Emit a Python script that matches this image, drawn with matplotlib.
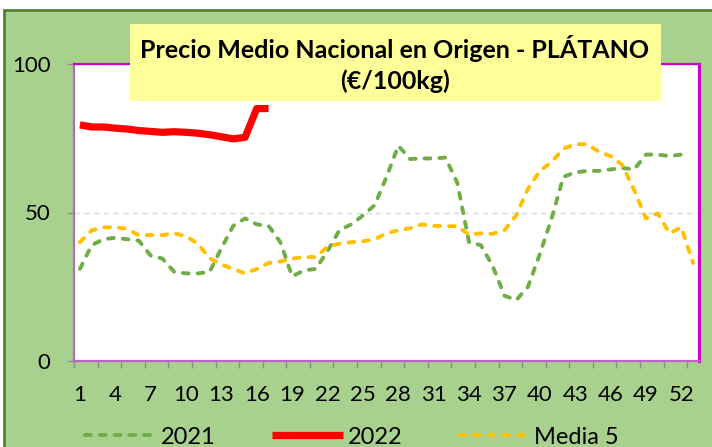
import matplotlib
matplotlib.use("Agg")
import matplotlib.pyplot as plt
from matplotlib.patches import Rectangle

# Weekly average origin price, banana (EUR/100kg)
weeks_2021 = list(range(1, 53))
price_2021 = [31, 39, 41, 41.5, 41, 40.5, 35.5, 34.5, 30, 29.5,
              29.5, 30, 38, 45.5, 48, 46, 45.5, 40, 28.5, 30.5,
              31, 37, 44, 46, 49, 52.5, 62, 72.5, 68, 68.2,
              68.2, 68.5, 60, 40, 39, 32, 22, 20.5, 25, 36,
              48, 62, 63.5, 64, 64, 64.5, 65, 64.5, 69.5, 69.5,
              69, 69.5]

weeks_2022 = list(range(1, 18))
price_2022 = [79.5, 78.8, 78.8, 78.4, 78.1, 77.6, 77.3, 77.0, 77.2, 77.0,
              76.7, 76.2, 75.5, 74.8, 75.3, 85.0, 85.0]

weeks_media5 = list(range(1, 54))
price_media5 = [40, 44, 45, 45, 44.5, 42.3, 42.4, 42.4, 43, 42,
                39.5, 34.6, 32.5, 31, 29.5, 31, 33, 33.5, 34.5, 35,
                35, 38.5, 39.5, 40, 40.3, 41, 43, 44, 44.7, 46,
                45.5, 45.4, 45.4, 42.5, 43, 42.8, 44, 49, 58, 64,
                67, 71.5, 73, 73, 70.5, 69, 66, 57.6, 48, 49.7,
                43, 45, 33]

x_labels = list(range(1, 53, 3))
y_ticks = [0, 50, 100]

title_lines = "Precio Medio Nacional en Origen - PLÁTANO\n(€/100kg)"

W, H = 712, 447
fig = plt.figure(figsize=(W / 100, H / 100), dpi=100)
fig.patch.set_facecolor("white")

FONT = "Lato"

# green chart area with darker frame on top/left
fig.patches.append(Rectangle((4 / W, -0.1), 1.2, (H - 10) / H + 0.1, transform=fig.transFigure,
                             facecolor="#A9D18E", edgecolor="#548235", linewidth=2,
                             zorder=-10))

ax = fig.add_axes([74 / W, 1 - 361 / H, (699 - 74) / W, (361 - 64) / H])
ax.set_zorder(1)
ax.set_facecolor("white")

dash_kw = dict(linewidth=2.8, dash_capstyle="round", dashes=(1.5, 2.3))
ax.plot(weeks_2021, price_2021, color="#70AD47", label="2021", **dash_kw)
ax.plot(weeks_2022, price_2022, color="#FF0000", linewidth=5.2, label="2022",
        solid_capstyle="butt", solid_joinstyle="round")
ax.plot(weeks_media5, price_media5, color="#FFC000", label="Media 5", **dash_kw)

ax.set_xlim(0.5, 53.5)
ax.set_ylim(0, 100)

ax.set_xticks(x_labels)
ax.set_xticklabels([str(v) for v in x_labels])
ax.set_xticks([0.5 + 2 * k for k in range(27)], minor=True)
ax.tick_params(axis="x", which="major", length=0, pad=17, labelsize=16)
ax.tick_params(axis="x", which="minor", length=5, width=1, color="#8C8C8C")

ax.set_yticks(y_ticks)
ax.tick_params(axis="y", length=5, width=1, color="#8C8C8C", pad=12, labelsize=16)
for lab in ax.get_xticklabels() + ax.get_yticklabels():
    lab.set_fontfamily(FONT)

ax.yaxis.grid(True, color="#D9D9D9", linestyle=(0, (4, 3)), linewidth=1)
ax.set_axisbelow(True)

ax.spines["top"].set_color("#CC00CC")
ax.spines["right"].set_color("#CC00CC")
ax.spines["right"].set_linewidth(2.2)
ax.spines["top"].set_linewidth(1.6)
ax.spines["left"].set_color("#B070B8")
ax.spines["bottom"].set_color("#C060C8")
ax.spines["left"].set_linewidth(1.6)
ax.spines["bottom"].set_linewidth(1.6)

# title box
fig.patches.append(Rectangle((130 / W, 1 - 101 / H), (661 - 130) / W, (101 - 24) / H,
                             transform=fig.transFigure, facecolor="#FFFF99",
                             edgecolor="none", zorder=5))
fig.text(395 / W, 1 - 64 / H, title_lines, ha="center", va="center",
         fontsize=18, fontweight="bold", family=FONT, linespacing=1.35, zorder=6)

handles, labels = ax.get_legend_handles_labels()
leg = fig.legend(handles, labels, loc="center", bbox_to_anchor=(352 / W, 1 - 437 / H),
                 ncol=3, frameon=False, handlelength=3.0, handletextpad=0.2,
                 columnspacing=2.4, prop={"family": FONT, "size": 17})

fig.savefig("out.png", dpi=100)
